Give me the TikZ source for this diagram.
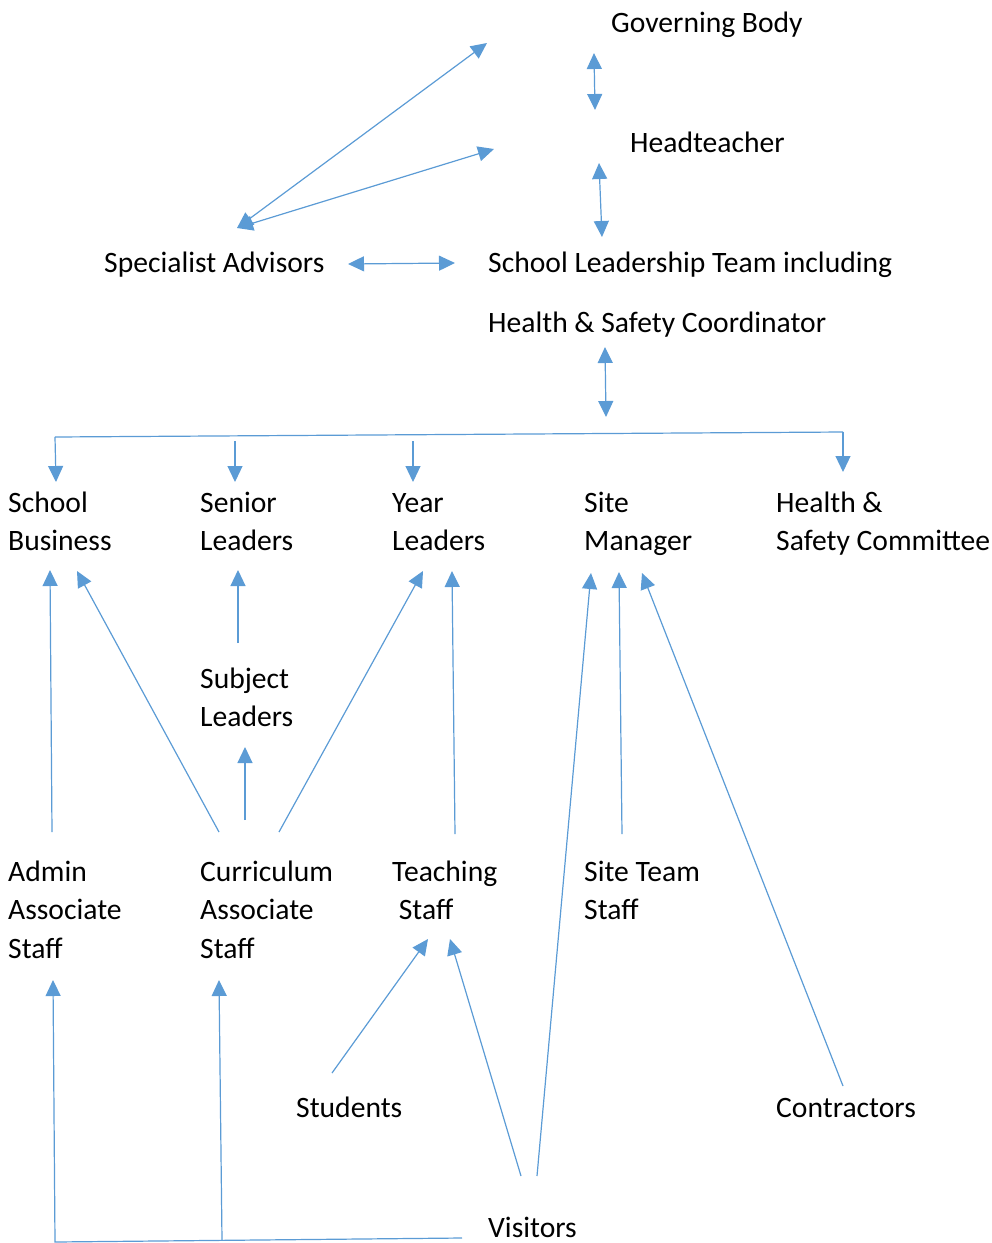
\documentclass[tikz,border=0pt]{standalone}
\usepackage{fontspec}
\setmainfont{Carlito}
\usetikzlibrary{arrows.meta}
\definecolor{linkblue}{RGB}{91,155,213}
\tikzset{
    mytext/.style = {anchor=base west, align=left, inner sep=0pt, font=\fontsize{29.6}{38.5}\selectfont, text=black},
    edgeb/.style = {-{Triangle[length=16pt,width=15pt]}, line width=1.2pt, linkblue},
    edgebb/.style = {{Triangle[length=16pt,width=15pt]}-{Triangle[length=16pt,width=15pt]}, line width=1.2pt, linkblue},
    edgen/.style = {-, line width=1.2pt, linkblue}
}
\begin{document}
\begin{tikzpicture}[x=1pt,y=-1pt]
\useasboundingbox (0,0) rectangle (992,1243);
% base anchor is the baseline of the last line
\node[mytext] at (611,32) (gb) {Governing Body};
\node[mytext] at (630,152) (ht) {Headteacher};
\node[mytext] at (104,272) (sa) {Specialist Advisors};
\node[mytext] at (488,272) (slt) {School Leadership Team including};
\node[mytext] at (488,332) (hsc) {Health \& Safety Coordinator};
\node[mytext] at (8,550.5) (sb) {School\\Business};
\node[mytext] at (200,550.5) (sl) {Senior\\Leaders};
\node[mytext] at (392,550.5) (yl) {Year\\Leaders};
\node[mytext] at (584,550.5) (sm) {Site\\Manager};
\node[mytext] at (776,550.5) (hsb) {Health \&\\Safety Committee};
\node[mytext] at (200,726.5) (subl) {Subject\\Leaders};
\node[mytext] at (8,958) (aas) {Admin\\Associate\\Staff};
\node[mytext] at (200,958) (cas) {Curriculum\\Associate\\Staff};
\node[mytext] at (392,919.5) (ts) {Teaching\\\ Staff};
\node[mytext] at (584,919.5) (sts) {Site Team\\Staff};
\node[mytext] at (296,1117) (st) {Students};
\node[mytext] at (776,1117) (con) {Contractors};
\node[mytext] at (488,1237) (vis) {Visitors};
%
\coordinate (gb1) at (594,53);  \coordinate (gb2) at (595,110);
\coordinate (ht1) at (599,163); \coordinate (ht2) at (602,237);
\coordinate (sa1) at (237,228); \coordinate (sa2) at (487,43);
\coordinate (sa3) at (494,149);
\coordinate (sa4) at (348,264); \coordinate (sa5) at (455,263);
\coordinate (hsc1) at (605,347); \coordinate (hsc2) at (606,417);
\coordinate (bus1) at (55,437); \coordinate (bus2) at (843,432);
\coordinate (sb1) at (56,482);
\coordinate (sl1) at (235,441); \coordinate (sl2) at (235,482);
\coordinate (yl1) at (413,441); \coordinate (yl2) at (413,482);
\coordinate (hsb1) at (843,472);
%
\coordinate (sb2) at (50,570);  \coordinate (sb3) at (77,571);
\coordinate (sl3) at (238,570); \coordinate (subl1) at (238,643);
\coordinate (subl2) at (245,747);
\coordinate (yl3) at (423,571); \coordinate (yl4) at (452,571);
\coordinate (sm1) at (591,573); \coordinate (sm2) at (619,572);
\coordinate (sm3) at (642,573);
\coordinate (aas1) at (52,832);
\coordinate (cas1) at (219,832); \coordinate (cas2) at (245,820);
\coordinate (cas3) at (279,832);
\coordinate (ts1) at (455,834);
\coordinate (sts1) at (622,834);
\coordinate (ts2) at (428,939); \coordinate (ts3) at (450,939);
\coordinate (aas2) at (53,980); \coordinate (cas4) at (219,980);
\coordinate (st1) at (332,1073);
\coordinate (con1) at (843,1086);
\coordinate (vis1) at (521,1176); \coordinate (vis2) at (537,1176);
\coordinate (vis3) at (462,1238); \coordinate (vis4) at (55,1242);
\coordinate (vis5) at (222,1240);
%
\draw[edgebb] (gb1) -- (gb2);
\draw[edgebb] (ht1) -- (ht2);
\draw[edgebb] (sa1) -- (sa2);
\draw[edgebb] (sa1) -- (sa3);
\draw[edgebb] (sa4) -- (sa5);
\draw[edgebb] (hsc1) -- (hsc2);
\draw[edgen] (bus1) -- (bus2);
\draw[edgeb] (bus1) -- (sb1);
\draw[edgeb] (sl1) -- (sl2);
\draw[edgeb] (yl1) -- (yl2);
\draw[edgeb] (bus2) -- (hsb1);
\draw[edgeb] (aas1) -- (sb2);
\draw[edgeb] (cas1) -- (sb3);
\draw[edgeb] (subl1) -- (sl3);
\draw[edgeb] (cas2) -- (subl2);
\draw[edgeb] (cas3) -- (yl3);
\draw[edgeb] (ts1) -- (yl4);
\draw[edgeb] (sts1) -- (sm2);
\draw[edgeb] (vis2) -- (sm1);
\draw[edgeb] (con1) -- (sm3);
\draw[edgeb] (st1) -- (ts2);
\draw[edgeb] (vis1) -- (ts3);
\draw[edgeb] (vis3) -- (vis4) -- (aas2);
\draw[edgeb] (vis5) -- (cas4);
\end{tikzpicture}
\end{document}
